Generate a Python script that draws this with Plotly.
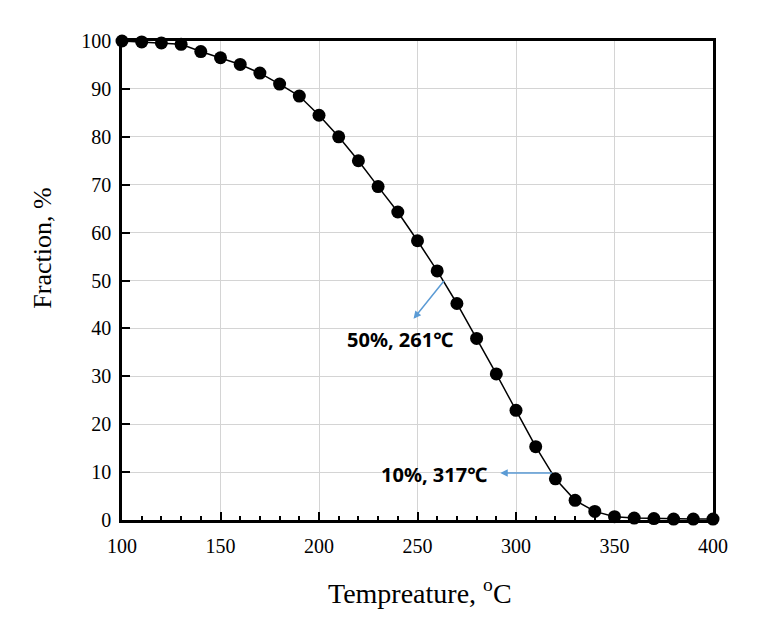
import plotly.graph_objects as go

temperature = [100, 110, 120, 130, 140, 150, 160, 170, 180, 190, 200,
               210, 220, 230, 240, 250, 260, 270, 280, 290, 300,
               310, 320, 330, 340, 350, 360, 370, 380, 390, 400]
fraction = [100.0, 99.8, 99.6, 99.3, 97.8, 96.5, 95.1, 93.3, 91.0, 88.5, 84.5,
            80.0, 75.0, 69.6, 64.3, 58.3, 52.0, 45.2, 37.9, 30.5, 22.9,
            15.3, 8.6, 4.1, 1.8, 0.7, 0.4, 0.3, 0.2, 0.2, 0.2]

fig = go.Figure()
fig.add_trace(go.Scatter(
    x=temperature, y=fraction, mode="lines+markers",
    line=dict(color="black", width=1.5),
    marker=dict(color="black", size=13),
    showlegend=False, cliponaxis=False,
))

arrow_color = "#5b9bd5"
fig.add_annotation(x=248, y=42, ax=264, ay=50.2, xref="x", yref="y",
                   axref="x", ayref="y", text="", showarrow=True,
                   arrowhead=2, arrowsize=1, arrowwidth=1.5, arrowcolor=arrow_color)
fig.add_annotation(x=292, y=9.8, ax=319, ay=9.8, xref="x", yref="y",
                   axref="x", ayref="y", text="", showarrow=True,
                   arrowhead=2, arrowsize=1, arrowwidth=1.5, arrowcolor=arrow_color)
label_font = dict(family="Noto Sans", size=20, color="black")
fig.add_annotation(x=241, y=37.6, text="<b>50%, 261℃</b>", showarrow=False,
                   font=label_font)
fig.add_annotation(x=258.6, y=9.6, text="<b>10%, 317℃</b>", showarrow=False,
                   font=label_font)

serif = "Liberation Serif"
# axis titles as annotations so they sit where the original has them
fig.add_annotation(x=-0.134, y=0.568, xref="paper", yref="paper",
                   xanchor="center", yanchor="middle",
                   text="Fraction, %", textangle=-90, showarrow=False,
                   font=dict(family=serif, size=26, color="black"))
fig.add_annotation(x=0.505, y=-0.15, xref="paper", yref="paper",
                   xanchor="center", yanchor="middle",
                   text="Tempreature, <sup>o</sup>C", showarrow=False,
                   font=dict(family=serif, size=28, color="black"))

fig.update_layout(
    width=760, height=631,
    margin=dict(l=114, r=55, t=33, b=119),
    plot_bgcolor="white", paper_bgcolor="white",
    font=dict(family=serif, color="black", size=20),
    xaxis=dict(
        range=[100, 400], dtick=50, tick0=100, automargin=False,
        showgrid=True, gridcolor="#d4d4d4", gridwidth=1,
        showline=True, linecolor="black", linewidth=2.5, mirror=True,
        ticks="inside", ticklen=8, tickwidth=1.5, tickcolor="black",
        ticklabelstandoff=6,
        minor=dict(dtick=10, ticks="inside", ticklen=4, tickwidth=1.5,
                   tickcolor="black", showgrid=False),
        zeroline=False,
    ),
    yaxis=dict(
        range=[0, 100], dtick=10, automargin=False,
        showgrid=True, gridcolor="#d4d4d4", gridwidth=1,
        showline=True, linecolor="black", linewidth=2.5, mirror=True,
        ticks="inside", ticklen=8, tickwidth=1.5, tickcolor="black",
        ticklabelstandoff=4,
        zeroline=False,
    ),
)

fig.write_html("out.html")
